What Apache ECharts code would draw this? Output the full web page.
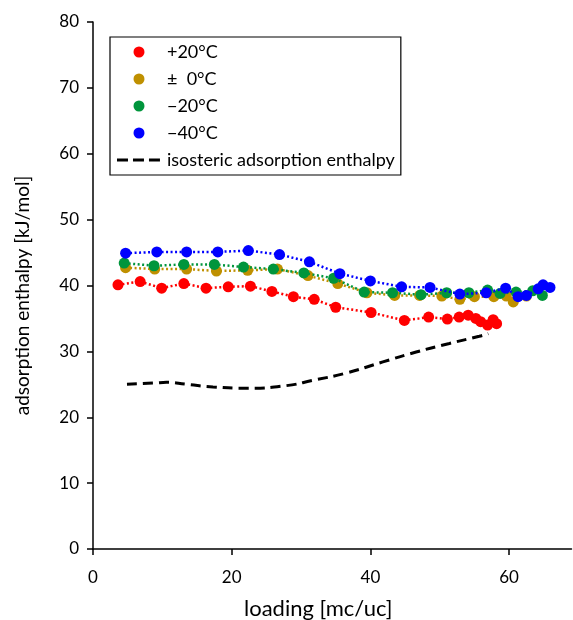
<!DOCTYPE html>
<html><head><meta charset="utf-8">
<script src="https://cdn.jsdelivr.net/npm/echarts@6/dist/echarts.min.js"></script>
<style>html,body{margin:0;padding:0;background:#fff}#c{width:573px;height:620px}</style>
</head><body><div id="c"></div>
<script>
const xTicks = [0, 20, 40, 60];
const yTicks = [0, 10, 20, 30, 40, 50, 60, 70, 80];
const seriesNames = ['+20°C', '±  0°C', '\u221220°C', '\u221240°C', 'isosteric adsorption enthalpy'];
const colors = ['#ff0000', '#bf9000', '#00953c', '#0000ff', '#000000'];
const p20 = [[3.6,40.1],[6.8,40.6],[9.9,39.6],[13.1,40.3],[16.3,39.6],[19.5,39.8],[22.7,39.9],[25.8,39.1],[28.9,38.3],[31.9,37.9],[35.0,36.7],[40.1,35.9],[44.9,34.7],[48.4,35.2],[51.1,34.9],[52.8,35.2],[54.1,35.5],[55.2,35.0],[55.9,34.5],[56.9,34.0],[57.7,34.8],[58.2,34.2]];
const p0 = [[4.7,42.7],[8.9,42.5],[13.5,42.5],[17.8,42.2],[22.3,42.3],[26.6,42.5],[31.0,41.5],[35.3,40.3],[39.5,38.9],[43.5,38.5],[47.1,38.5],[50.3,38.4],[52.9,37.9],[55.0,38.3],[57.8,38.3],[59.6,38.4],[60.6,37.5],[62.5,38.4]];
const m20 = [[4.5,43.4],[8.8,43.0],[13.1,43.2],[17.5,43.2],[21.7,42.8],[26.0,42.5],[30.4,41.9],[34.7,41.1],[39.1,39.0],[43.2,38.9],[47.3,38.6],[51.0,38.9],[54.2,38.9],[56.9,39.3],[58.7,38.8],[61.0,39.0],[63.4,39.2],[64.8,38.5]];
const m40 = [[4.7,44.9],[9.2,45.1],[13.5,45.1],[18.0,45.1],[22.4,45.3],[26.9,44.7],[31.2,43.6],[35.6,41.8],[40.0,40.7],[44.5,39.8],[48.6,39.7],[52.9,38.7],[56.7,38.9],[59.5,39.6],[61.3,38.3],[62.5,38.5],[64.2,39.5],[64.9,40.1],[65.9,39.7]];
const iso = [[4.9,25.0],[8.9,25.2],[10.6,25.3],[13.5,25.0],[17.3,24.6],[22.3,24.4],[27.9,24.8],[31.7,25.6],[36.5,26.7],[41.8,28.4],[46.6,29.9],[51.4,31.2],[55.7,32.3],[57.0,32.7]];

const FONT = 'Lato';
const dotted = [p20, p0, m20, m40].map((d, i) => ({
  name: seriesNames[i], type: 'line', data: d,
  symbol: 'circle', symbolSize: 11, showSymbol: true,
  itemStyle: { color: colors[i] },
  lineStyle: { color: colors[i], width: 2.5, type: [2, 2.5] },
  z: 2 + i
}));
const chart = echarts.init(document.getElementById('c'), null, { renderer: 'canvas' });
chart.setOption({
  animation: false,
  backgroundColor: '#fff',
  textStyle: { fontFamily: FONT },
  grid: { left: 93, top: 22, right: 1.5, bottom: 71, containLabel: false, outerBoundsMode: 'none' },
  xAxis: {
    type: 'value', min: 0, max: 69, interval: 20,
    name: 'loading [mc/uc]', nameLocation: 'middle', nameGap: 49,
    nameTextStyle: { fontSize: 22, color: '#000', fontFamily: FONT, padding: [0, 28, 0, 0] },
    axisLine: { lineStyle: { color: '#000', width: 1.5 } },
    axisTick: { show: true, length: 6, lineStyle: { color: '#000', width: 1.5 } },
    axisLabel: { fontSize: 17, color: '#000', margin: 20, showMaxLabel: false, fontFamily: FONT,
      formatter: v => xTicks.includes(v) ? String(v) : '' },
    splitLine: { show: false }
  },
  yAxis: {
    type: 'value', min: 0, max: 80, interval: 10,
    name: 'adsorption enthalpy [kJ/mol]', nameLocation: 'middle', nameGap: 61,
    nameTextStyle: { fontSize: 19, color: '#000', fontFamily: FONT, padding: [0, 20, 0, 0] },
    axisLine: { show: true, lineStyle: { color: '#000', width: 1.5 } },
    axisTick: { show: true, length: 6, lineStyle: { color: '#000', width: 1.5 } },
    axisLabel: { fontSize: 17, color: '#000', margin: 14, fontFamily: FONT,
      formatter: v => yTicks.includes(v) ? String(v) : '' },
    splitLine: { show: false }
  },
  legend: {
    orient: 'vertical', left: 110, top: 37,
    backgroundColor: '#fff',
    borderColor: '#000', borderWidth: 1.2, padding: [6, 6, 6, 6],
    itemWidth: 46, itemHeight: 11, itemGap: 9,
    textStyle: { fontSize: 18, color: '#000', fontFamily: FONT, lineHeight: 18 },
    data: [
      { name: seriesNames[0], icon: 'circle' },
      { name: seriesNames[1], icon: 'circle' },
      { name: seriesNames[2], icon: 'circle' },
      { name: seriesNames[3], icon: 'circle' },
      { name: seriesNames[4], icon: 'path://M0,0h0.01v0.01h-0.01z M46,11h0.01v0.01h-0.01z M1,4h11v3h-11z M17,4h11v3h-11z M33,4h11v3h-11z' }
    ]
  },
  series: [
    { name: seriesNames[4], type: 'line', data: iso, smooth: 0.5, symbol: 'none', showSymbol: false,
      itemStyle: { color: '#000' },
      lineStyle: { color: '#000', width: 3, type: [10, 6] }, z: 1 },
    ...dotted
  ]
});
</script></body></html>
